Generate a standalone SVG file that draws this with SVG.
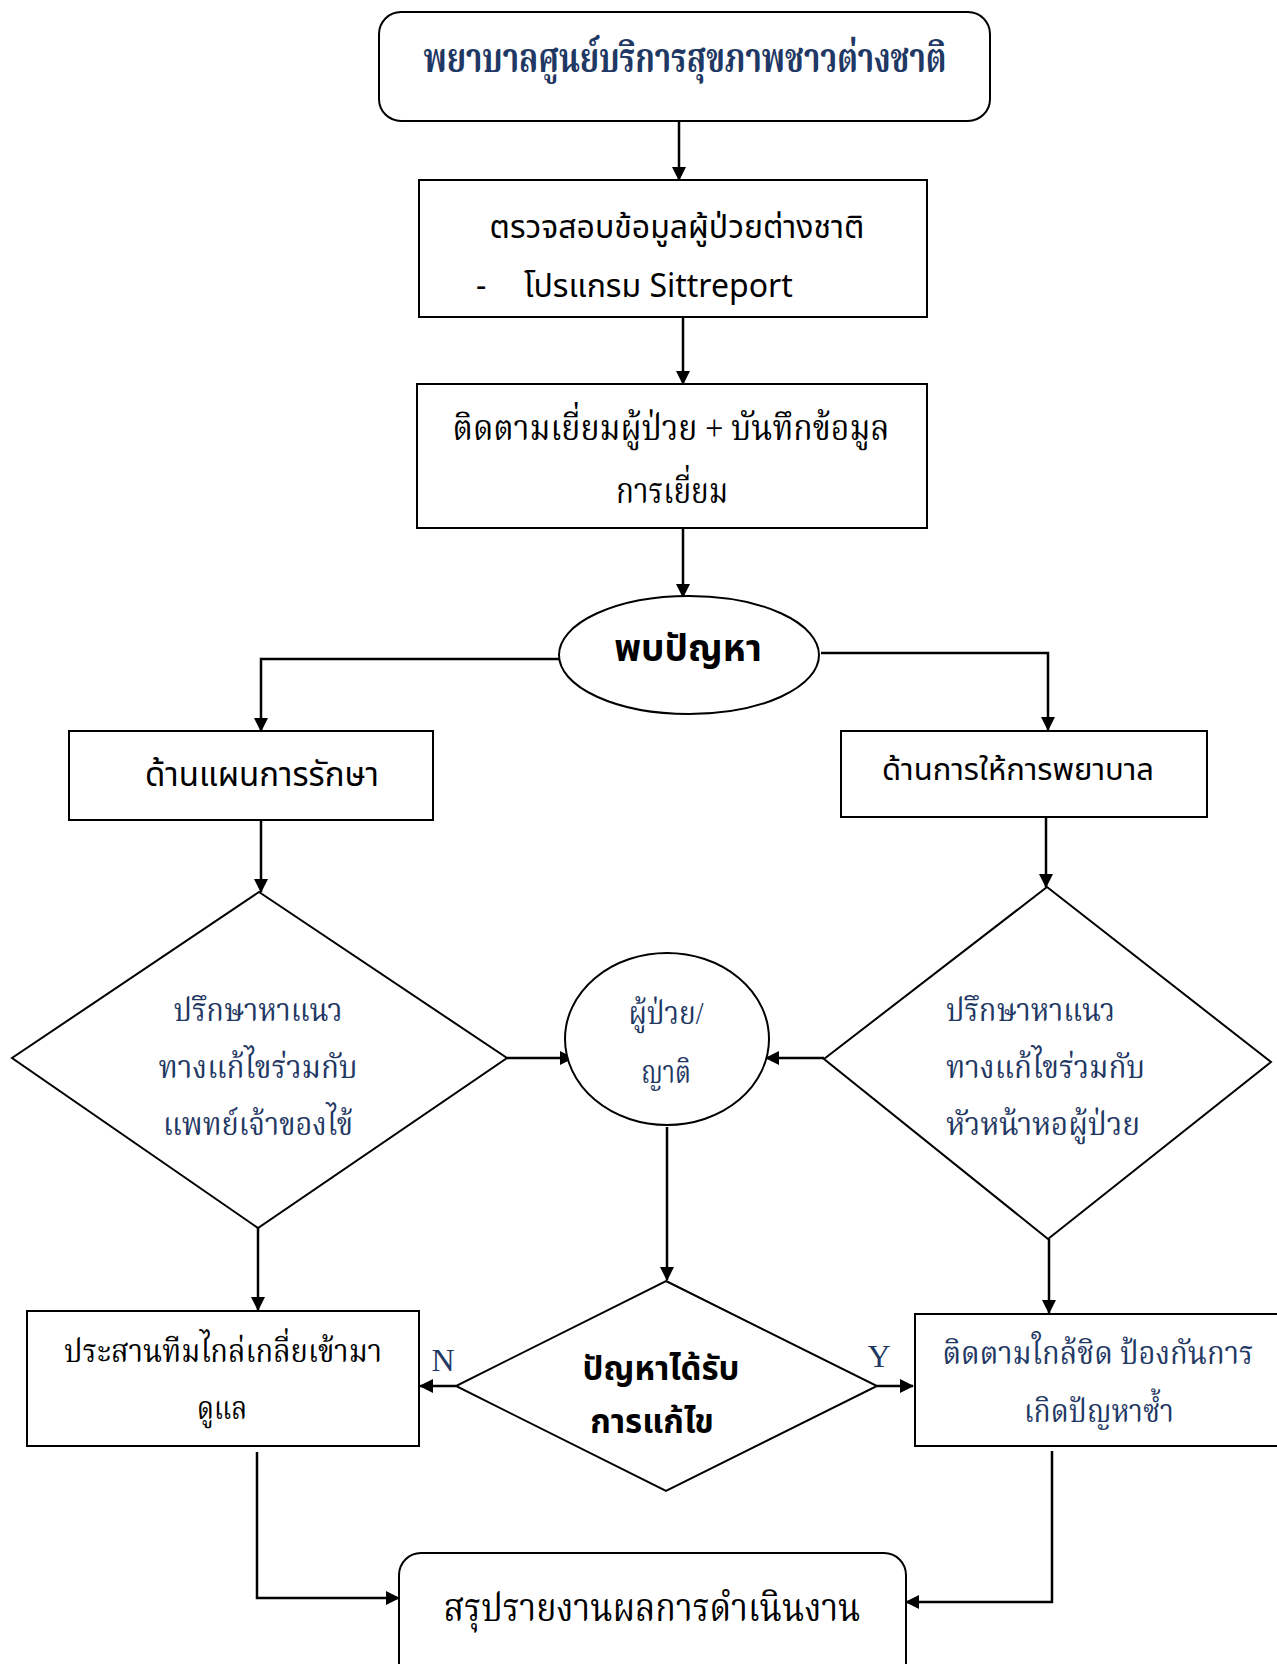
<svg xmlns="http://www.w3.org/2000/svg" width="1277" height="1664" viewBox="0 0 1277 1664">
  <defs>
    <marker id="arrow" markerUnits="userSpaceOnUse" markerWidth="14" markerHeight="14" refX="13" refY="7" orient="auto">
      <path d="M0,0 L14,7 L0,14 z" fill="#000"/>
    </marker>
    <style>
      .shape { fill: #fff; stroke: #000; stroke-width: 2; }
      .conn { fill: none; stroke: #000; stroke-width: 2.5; }
      .arrow { marker-end: url(#arrow); }
      .serif { font-family: "Liberation Serif", "Noto Serif Thai", serif; }
      .sans { font-family: "Noto Sans", "Noto Sans Thai", sans-serif; }
      .blue { fill: #1F3864; }
      .black { fill: #000; }
      .mid { text-anchor: middle; }
    </style>
  </defs>

  <rect width="1277" height="1664" fill="#fff"/>

  <!-- connectors -->
  <g id="connectors">
    <path class="conn arrow" d="M679,121 V180"/>
    <path class="conn arrow" d="M683,317 V384"/>
    <path class="conn arrow" d="M683,528 V597"/>
    <path class="conn arrow" d="M559,659 H261 V731"/>
    <path class="conn arrow" d="M821,653 H1048 V730"/>
    <path class="conn arrow" d="M261,820 V892"/>
    <path class="conn arrow" d="M1046,817 V887"/>
    <path class="conn arrow" d="M507,1058 H573"/>
    <path class="conn arrow" d="M824,1058 H766"/>
    <path class="conn arrow" d="M667,1127 V1280"/>
    <path class="conn arrow" d="M258,1228 V1310"/>
    <path class="conn arrow" d="M1049,1239 V1313"/>
    <path class="conn arrow" d="M456,1386 H420"/>
    <path class="conn arrow" d="M877,1386 H913"/>
    <path class="conn arrow" d="M257,1452 V1598 H399"/>
    <path class="conn arrow" d="M1052,1451 V1602 H906"/>
  </g>

  <!-- start -->
  <g id="node-start">
    <rect class="shape" x="379" y="12" width="611" height="109" rx="22" stroke-width="1.5"/>
    <text class="serif blue mid" x="685" y="72" font-size="40" font-weight="bold" textLength="523" lengthAdjust="spacingAndGlyphs">พยาบาลศูนย์บริการสุขภาพชาวต่างชาติ</text>
  </g>

  <!-- check foreign patient data -->
  <g id="node-check">
    <rect class="shape" x="419" y="180" width="508" height="137"/>
    <text class="sans black mid" x="677" y="238" font-size="32">ตรวจสอบข้อมูลผู้ป่วยต่างชาติ</text>
    <text class="sans black" x="476" y="297" font-size="32">-</text>
    <text class="sans black" x="524" y="297" font-size="32">โปรแกรม Sittreport</text>
  </g>

  <!-- follow-up visit -->
  <g id="node-visit">
    <rect class="shape" x="417" y="384" width="510" height="144"/>
    <text class="serif black mid" x="671" y="440" font-size="36" textLength="437" lengthAdjust="spacingAndGlyphs">ติดตามเยี่ยมผู้ป่วย + บันทึกข้อมูล</text>
    <text class="serif black mid" x="672" y="503" font-size="36" textLength="112" lengthAdjust="spacingAndGlyphs">การเยี่ยม</text>
  </g>

  <!-- problem found -->
  <g id="node-problem">
    <ellipse class="shape" cx="689" cy="655" rx="130" ry="59" stroke-width="1.5"/>
    <text class="sans black mid" x="688" y="661" font-size="37" font-weight="bold">พบปัญหา</text>
  </g>

  <!-- treatment plan -->
  <g id="node-treatment">
    <rect class="shape" x="69" y="731" width="364" height="89"/>
    <text class="sans black mid" x="262" y="786" font-size="33">ด้านแผนการรักษา</text>
  </g>

  <!-- nursing care -->
  <g id="node-nursing">
    <rect class="shape" x="841" y="731" width="366" height="86"/>
    <text class="sans black mid" x="1018" y="780" font-size="31">ด้านการให้การพยาบาล</text>
  </g>

  <!-- consult physician -->
  <g id="node-consult-doctor">
    <polygon class="shape" points="259,892 507,1058 258,1228 12,1058"/>
    <text class="serif blue mid" x="258" y="1021" font-size="32" textLength="169" lengthAdjust="spacingAndGlyphs">ปรึกษาหาแนว</text>
    <text class="serif blue mid" x="258" y="1078" font-size="32" textLength="199" lengthAdjust="spacingAndGlyphs">ทางแก้ไขร่วมกับ</text>
    <text class="serif blue mid" x="258" y="1135" font-size="32" textLength="190" lengthAdjust="spacingAndGlyphs">แพทย์เจ้าของไข้</text>
  </g>

  <!-- patient / relatives -->
  <g id="node-patient">
    <ellipse class="shape" cx="667" cy="1039" rx="102" ry="86" stroke-width="1.5"/>
    <text class="serif blue mid" x="666" y="1024" font-size="32" textLength="75" lengthAdjust="spacingAndGlyphs">ผู้ป่วย/</text>
    <text class="serif blue mid" x="666" y="1083" font-size="32" textLength="50" lengthAdjust="spacingAndGlyphs">ญาติ</text>
  </g>

  <!-- consult head nurse -->
  <g id="node-consult-headnurse">
    <polygon class="shape" points="1047,887 1271,1062 1048,1239 824,1059"/>
    <text class="serif blue" x="946" y="1021" font-size="32" textLength="169" lengthAdjust="spacingAndGlyphs">ปรึกษาหาแนว</text>
    <text class="serif blue" x="946" y="1078" font-size="32" textLength="199" lengthAdjust="spacingAndGlyphs">ทางแก้ไขร่วมกับ</text>
    <text class="serif blue" x="946" y="1135" font-size="32" textLength="194" lengthAdjust="spacingAndGlyphs">หัวหน้าหอผู้ป่วย</text>
  </g>

  <!-- resolved? -->
  <g id="node-resolved">
    <polygon class="shape" points="666,1281 877,1386 666,1491 456,1386"/>
    <text class="sans black mid" x="661" y="1380" font-size="33" font-weight="bold">ปัญหาได้รับ</text>
    <text class="sans black mid" x="652" y="1433" font-size="33" font-weight="bold">การแก้ไข</text>
  </g>

  <!-- branch labels -->
  <text class="serif blue mid" x="443" y="1371" font-size="32">N</text>
  <text class="serif blue mid" x="879" y="1367" font-size="32">Y</text>

  <!-- mediation team -->
  <g id="node-mediation">
    <rect class="shape" x="27" y="1311" width="392" height="135"/>
    <text class="serif black mid" x="223" y="1362" font-size="32" textLength="318" lengthAdjust="spacingAndGlyphs">ประสานทีมไกล่เกลี่ยเข้ามา</text>
    <text class="serif black mid" x="222" y="1419" font-size="32" textLength="50" lengthAdjust="spacingAndGlyphs">ดูแล</text>
  </g>

  <!-- close follow-up (box runs past the right edge) -->
  <g id="node-followup">
    <rect class="shape" x="915" y="1314" width="364" height="132"/>
    <text class="serif blue mid" transform="translate(1098,1364) scale(0.91,1)" font-size="32">ติดตามใกล้ชิด ป้องกันการ</text>
    <text class="serif blue mid" x="1099" y="1422" font-size="32" textLength="150" lengthAdjust="spacingAndGlyphs">เกิดปัญหาซ้ำ</text>
  </g>

  <!-- summary (box runs past the bottom edge) -->
  <g id="node-summary">
    <rect class="shape" x="399" y="1553" width="507" height="140" rx="22"/>
    <text class="serif black mid" x="652" y="1621" font-size="40" textLength="417" lengthAdjust="spacingAndGlyphs">สรุปรายงานผลการดำเนินงาน</text>
  </g>
</svg>
